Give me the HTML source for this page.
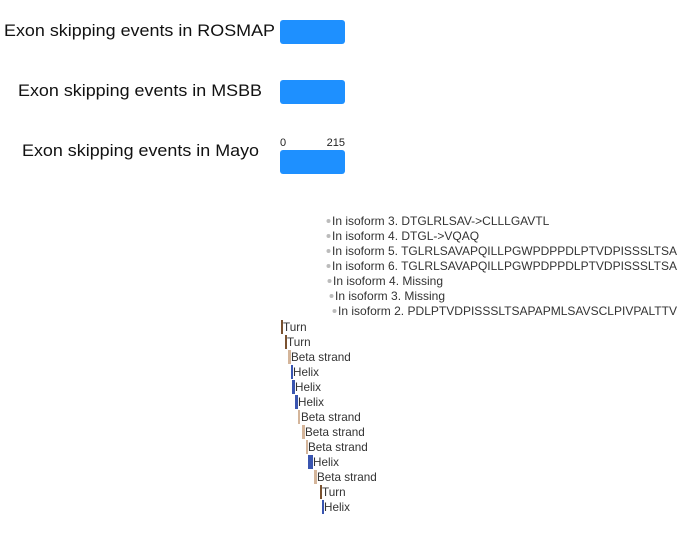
<!DOCTYPE html>
<html><head><style>html,body{margin:0;padding:0;background:#fff;}</style></head>
<body>
<svg width="687" height="535" xmlns="http://www.w3.org/2000/svg" font-family="Liberation Sans, Arial, sans-serif">
<g font-size="17" fill="#111">
<text x="4" y="36" textLength="271" lengthAdjust="spacingAndGlyphs">Exon skipping events in ROSMAP</text>
<text x="18" y="96" textLength="244" lengthAdjust="spacingAndGlyphs">Exon skipping events in MSBB</text>
<text x="22" y="156" textLength="237" lengthAdjust="spacingAndGlyphs">Exon skipping events in Mayo</text>
</g>
<g fill="#1e90ff">
<rect x="280" y="20" width="65" height="24" rx="3"/>
<rect x="280" y="80" width="65" height="24" rx="3"/>
<rect x="280" y="150" width="65" height="24" rx="3"/>
</g>
<g font-size="11" fill="#222">
<text x="280" y="146">0</text>
<text x="345" y="146" text-anchor="end">215</text>
</g>
<g font-size="12" fill="#333">
<circle cx="328.5" cy="221" r="2" fill="#bbb"/><text x="332" y="225">In isoform 3. DTGLRLSAV-&gt;CLLLGAVTL</text>
<circle cx="328.5" cy="236" r="2" fill="#bbb"/><text x="332" y="240">In isoform 4. DTGL-&gt;VQAQ</text>
<circle cx="328.5" cy="251" r="2" fill="#bbb"/><text x="332" y="255" textLength="345" lengthAdjust="spacingAndGlyphs">In isoform 5. TGLRLSAVAPQILLPGWPDPPDLPTVDPISSSLTSA</text>
<circle cx="328.5" cy="266" r="2" fill="#bbb"/><text x="332" y="270" textLength="345" lengthAdjust="spacingAndGlyphs">In isoform 6. TGLRLSAVAPQILLPGWPDPPDLPTVDPISSSLTSA</text>
<circle cx="329.5" cy="281" r="2" fill="#bbb"/><text x="333" y="285">In isoform 4. Missing</text>
<circle cx="331.5" cy="296" r="2" fill="#bbb"/><text x="335" y="300">In isoform 3. Missing</text>
<circle cx="334.5" cy="311" r="2" fill="#bbb"/><text x="338" y="315" textLength="339" lengthAdjust="spacingAndGlyphs">In isoform 2. PDLPTVDPISSSLTSAPAPMLSAVSCLPIVPALTTV</text>
</g>
<g font-size="11.7" fill="#333">
<rect x="281" y="320" width="2" height="14" fill="#7a5230"/><text x="283" y="331">Turn</text>
<rect x="285" y="335" width="2" height="14" fill="#7a5230"/><text x="287" y="346">Turn</text>
<rect x="288" y="350" width="3" height="14" fill="#d4b59a"/><text x="291" y="361">Beta strand</text>
<rect x="291" y="365" width="2" height="14" fill="#3a55b0"/><text x="293" y="376">Helix</text>
<rect x="292" y="380" width="3" height="14" fill="#3a55b0"/><text x="295" y="391">Helix</text>
<rect x="295" y="395" width="3" height="14" fill="#3a55b0"/><text x="298" y="406">Helix</text>
<rect x="298" y="410" width="2" height="14" fill="#d4b59a"/><text x="301" y="421">Beta strand</text>
<rect x="302" y="425" width="3" height="14" fill="#d4b59a"/><text x="305" y="436">Beta strand</text>
<rect x="306" y="440" width="2" height="14" fill="#d4b59a"/><text x="308" y="451">Beta strand</text>
<rect x="308" y="455" width="5" height="14" fill="#3a55b0"/><text x="313" y="466">Helix</text>
<rect x="314" y="470" width="3" height="14" fill="#d4b59a"/><text x="317" y="481">Beta strand</text>
<rect x="320" y="485" width="2" height="14" fill="#7a5230"/><text x="322" y="496">Turn</text>
<rect x="322" y="500" width="2" height="14" fill="#3a55b0"/><text x="324" y="511">Helix</text>
</g>
</svg>
</body></html>
